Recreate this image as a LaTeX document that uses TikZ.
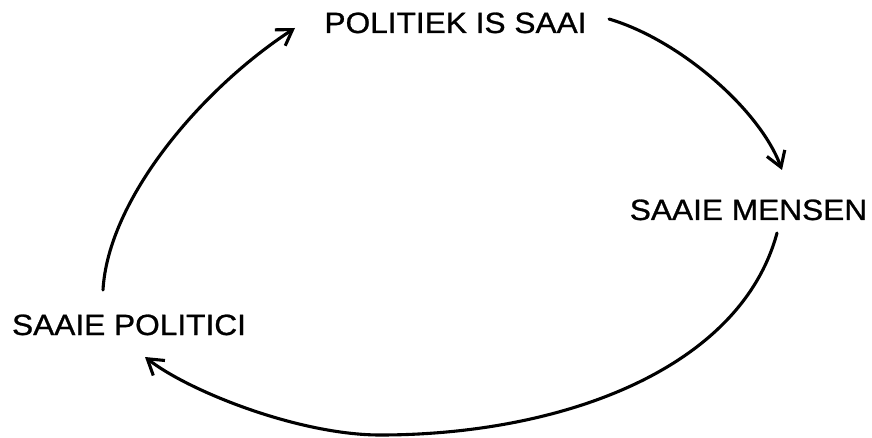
\documentclass[tikz,border=0pt]{standalone}
\usepackage{fontspec}
\setmainfont{Liberation Sans}[FakeStretch=1.08,FakeBold=0.9]
\usetikzlibrary{arrows.meta}
\begin{document}
\begin{tikzpicture}[x=1pt,y=-1pt,
  lbl/.style={inner sep=0pt,anchor=base,font=\fontsize{29.3}{35}\selectfont},
  conn/.style={line width=3.1pt,line cap=round,line join=round,
    -{Straight Barb[length=15pt,width=19pt,line width=3.1pt]}}]
\useasboundingbox (0,0) rectangle (872,438);
\node[lbl] (pol) at (455.5,33) {POLITIEK IS SAAI};
\node[lbl] (men) at (748.5,220) {SAAIE MENSEN};
\node[lbl] (spo) at (129,335) {SAAIE POLITICI};
\coordinate (a1) at (103,290);
\coordinate (b1) at (295,28);
\coordinate (a2) at (609,19);
\coordinate (b2) at (782,170);
\coordinate (a3) at (777,233);
\coordinate (m3) at (380,435);
\coordinate (b3) at (145,357);
\draw[conn] (a1) .. controls (108,200) and (200,90) .. (b1);
\draw[conn] (a2) .. controls (680,40) and (760,110) .. (b2);
\draw[conn] (a3) .. controls (740,370) and (560,435) .. (m3)
  .. controls (300,435) and (190,392) .. (b3);
\end{tikzpicture}
\end{document}
